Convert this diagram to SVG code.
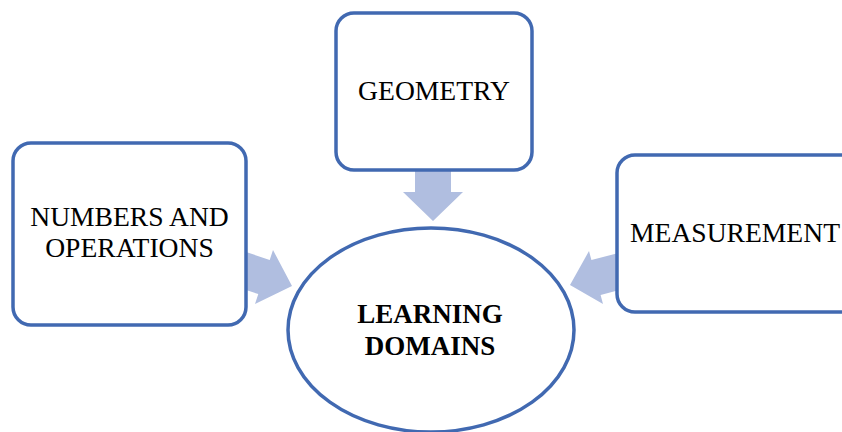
<svg xmlns="http://www.w3.org/2000/svg" width="842" height="432" viewBox="0 0 842 432">
<style>
.box{fill:#fff;stroke:#4169B1;stroke-width:3.5}
.arr{fill:#B0BEE0;stroke:none}
.t{font-family:"Liberation Serif","Times New Roman",serif;font-size:27.6px;fill:#000;text-anchor:middle}
.b{font-weight:bold;font-size:27px}
</style>
<rect width="842" height="432" fill="#fff"/>
<g id="connectors">
<polygon class="arr" points="415,165 451,165 451,192 463,192 433,221 403,192 415,192"/>
<polygon class="arr" points="240,250 269.7,259.9 273,250 292,286 255,304 258.3,294.1 240,288"/>
<polygon class="arr" points="625,251.3 591.4,260.1 589,251 570,285 603,304 600.6,294.9 625,288.5"/>
</g>
<g id="node-numbers">
<rect class="box" x="13" y="143" width="233" height="182" rx="18"/>
<text class="t" x="129.5" y="226">NUMBERS AND</text>
<text class="t" x="129.5" y="257">OPERATIONS</text>
</g>
<g id="node-geometry">
<rect class="box" x="336" y="13" width="196" height="157" rx="18"/>
<text class="t" x="434" y="100">GEOMETRY</text>
</g>
<g id="node-measurement">
<rect class="box" x="617" y="155" width="260" height="157" rx="18"/>
<text class="t" x="735" y="242">MEASUREMENT</text>
</g>
<g id="node-learning">
<ellipse class="box" cx="431" cy="330" rx="143" ry="102"/>
<text class="t b" x="430" y="323">LEARNING</text>
<text class="t b" x="430" y="355">DOMAINS</text>
</g>
</svg>
